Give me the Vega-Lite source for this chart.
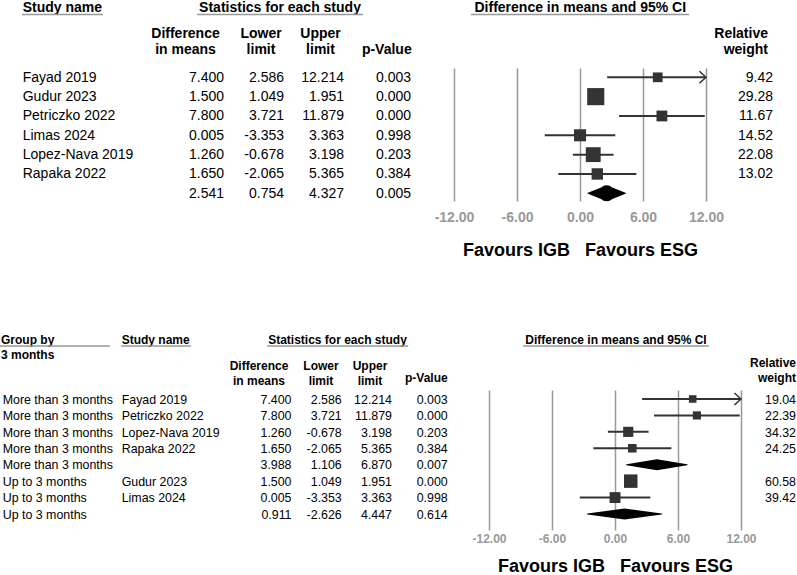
{
"$schema":"https://vega.github.io/schema/vega-lite/v6.json",
"width":797,"height":575,"padding":0,"autosize":{"type":"none"},"background":"white",
"config":{"view":{"stroke":null},"font":"Liberation Sans","text":{"font":"Liberation Sans"},"locale":{"number":{"decimal":".","thousands":",","grouping":[3],"currency":["$",""],"minus":"-"}}},
"datasets":{
"top":[
{"key":"Fayad 2019","study":"Fayad 2019","diff":7.400,"lower":2.586,"upper":12.214,"p":0.003,"weight":9.42},
{"key":"Gudur 2023","study":"Gudur 2023","diff":1.500,"lower":1.049,"upper":1.951,"p":0.000,"weight":29.28},
{"key":"Petriczko 2022","study":"Petriczko 2022","diff":7.800,"lower":3.721,"upper":11.879,"p":0.000,"weight":11.67},
{"key":"Limas 2024","study":"Limas 2024","diff":0.005,"lower":-3.353,"upper":3.363,"p":0.998,"weight":14.52},
{"key":"Lopez-Nava 2019","study":"Lopez-Nava 2019","diff":1.260,"lower":-0.678,"upper":3.198,"p":0.203,"weight":22.08},
{"key":"Rapaka 2022","study":"Rapaka 2022","diff":1.650,"lower":-2.065,"upper":5.365,"p":0.384,"weight":13.02},
{"key":"Overall","study":"","diff":2.541,"lower":0.754,"upper":4.327,"p":0.005,"weight":null}
],
"bottom":[
{"key":"Fayad 2019","group":"More than 3 months","study":"Fayad 2019","diff":7.400,"lower":2.586,"upper":12.214,"p":0.003,"weight":19.04},
{"key":"Petriczko 2022","group":"More than 3 months","study":"Petriczko 2022","diff":7.800,"lower":3.721,"upper":11.879,"p":0.000,"weight":22.39},
{"key":"Lopez-Nava 2019","group":"More than 3 months","study":"Lopez-Nava 2019","diff":1.260,"lower":-0.678,"upper":3.198,"p":0.203,"weight":34.32},
{"key":"Rapaka 2022","group":"More than 3 months","study":"Rapaka 2022","diff":1.650,"lower":-2.065,"upper":5.365,"p":0.384,"weight":24.25},
{"key":"Subtotal more","group":"More than 3 months","study":"","diff":3.988,"lower":1.106,"upper":6.870,"p":0.007,"weight":null},
{"key":"Gudur 2023","group":"Up to 3 months","study":"Gudur 2023","diff":1.500,"lower":1.049,"upper":1.951,"p":0.000,"weight":60.58},
{"key":"Limas 2024","group":"Up to 3 months","study":"Limas 2024","diff":0.005,"lower":-3.353,"upper":3.363,"p":0.998,"weight":39.42},
{"key":"Subtotal up","group":"Up to 3 months","study":"","diff":0.911,"lower":-2.626,"upper":4.447,"p":0.614,"weight":null}
],
"hdrTop":[
{"h":"study","t":"Study name"},
{"h":"stats","t":"Statistics for each study"},
{"h":"ci","t":"Difference in means and 95% CI"},
{"h":"diff","t":"Difference\nin means"},
{"h":"lower","t":"Lower\nlimit"},
{"h":"upper","t":"Upper\nlimit"},
{"h":"p","t":"p-Value"},
{"h":"w","t":"Relative\nweight"}
],
"hdrBot":[
{"h":"group","t":"Group by\n3 months"},
{"h":"study","t":"Study name"},
{"h":"stats","t":"Statistics for each study"},
{"h":"ci","t":"Difference in means and 95% CI"},
{"h":"diff","t":"Difference\nin means"},
{"h":"lower","t":"Lower\nlimit"},
{"h":"upper","t":"Upper\nlimit"},
{"h":"p","t":"p-Value"},
{"h":"w","t":"Relative\nweight"}
]
},
"layer":[
{"data":{"name":"top"},"mark":{"type":"text","align":"left","baseline":"middle","fontSize":14,"color":"#000"},
 "encoding":{"text":{"field":"study"},"x":{"field":"key","type":"nominal","scale":{"type":"point","range":[22.7,22.7]},"axis":null},
 "y":{"field":"key","type":"nominal","scale":{"type":"point","domain":["Fayad 2019","Gudur 2023","Petriczko 2022","Limas 2024","Lopez-Nava 2019","Rapaka 2022","Overall"],"range":[77.8,193.8],"padding":0},"axis":null}}},
{"data":{"name":"top"},"transform":[{"fold":["diff","lower","upper"],"as":["k","v"]}],"mark":{"type":"text","align":"right","baseline":"middle","fontSize":14,"color":"#000"},
 "encoding":{"text":{"field":"v","type":"quantitative","format":".3f"},"x":{"field":"k","type":"nominal","scale":{"type":"point","domain":["diff","lower","upper"],"range":[224,344],"padding":0},"axis":null},
 "y":{"field":"key","type":"nominal","scale":{"type":"point","domain":["Fayad 2019","Gudur 2023","Petriczko 2022","Limas 2024","Lopez-Nava 2019","Rapaka 2022","Overall"],"range":[77.8,193.8],"padding":0},"axis":null}}},
{"data":{"name":"top"},"mark":{"type":"text","align":"right","baseline":"middle","fontSize":14,"color":"#000"},
 "encoding":{"text":{"field":"p","type":"quantitative","format":".3f"},"x":{"field":"key","type":"nominal","scale":{"type":"point","range":[411,411]},"axis":null},
 "y":{"field":"key","type":"nominal","scale":{"type":"point","domain":["Fayad 2019","Gudur 2023","Petriczko 2022","Limas 2024","Lopez-Nava 2019","Rapaka 2022","Overall"],"range":[77.8,193.8],"padding":0},"axis":null}}},
{"data":{"name":"top"},"transform":[{"filter":"isValid(datum.weight)"}],"mark":{"type":"text","align":"right","baseline":"middle","fontSize":14,"color":"#000"},
 "encoding":{"text":{"field":"weight","type":"quantitative","format":".2f"},"x":{"field":"key","type":"nominal","scale":{"type":"point","range":[773,773]},"axis":null},
 "y":{"field":"key","type":"nominal","scale":{"type":"point","domain":["Fayad 2019","Gudur 2023","Petriczko 2022","Limas 2024","Lopez-Nava 2019","Rapaka 2022","Overall"],"range":[77.8,193.8],"padding":0},"axis":null}}},

{"data":{"name":"hdrTop"},"transform":[{"filter":"datum.h=='study'"}],"mark":{"type":"text","align":"left","baseline":"middle","fontSize":14,"fontWeight":"bold","lineBreak":"\n","lineHeight":16,"color":"#000"},
 "encoding":{"text":{"field":"t"},"x":{"field":"h","type":"nominal","scale":{"type":"point","range":[22.7,22.7]},"axis":null},"y":{"field":"h","type":"nominal","scale":{"type":"point","range":[7.8,7.8]},"axis":null}}},
{"data":{"name":"hdrTop"},"transform":[{"filter":"datum.h=='stats'"}],"mark":{"type":"text","align":"center","baseline":"middle","fontSize":14,"fontWeight":"bold","lineBreak":"\n","lineHeight":16,"color":"#000"},
 "encoding":{"text":{"field":"t"},"x":{"field":"h","type":"nominal","scale":{"type":"point","range":[280,280]},"axis":null},"y":{"field":"h","type":"nominal","scale":{"type":"point","range":[7.8,7.8]},"axis":null}}},
{"data":{"name":"hdrTop"},"transform":[{"filter":"datum.h=='ci'"}],"mark":{"type":"text","align":"center","baseline":"middle","fontSize":14,"fontWeight":"bold","lineBreak":"\n","lineHeight":16,"color":"#000"},
 "encoding":{"text":{"field":"t"},"x":{"field":"h","type":"nominal","scale":{"type":"point","range":[580.3,580.3]},"axis":null},"y":{"field":"h","type":"nominal","scale":{"type":"point","range":[7.8,7.8]},"axis":null}}},
{"data":{"name":"hdrTop"},"transform":[{"filter":"datum.h=='diff'"}],"mark":{"type":"text","align":"center","baseline":"middle","fontSize":14,"fontWeight":"bold","lineBreak":"\n","lineHeight":16,"color":"#000"},
 "encoding":{"text":{"field":"t"},"x":{"field":"h","type":"nominal","scale":{"type":"point","range":[185.5,185.5]},"axis":null},"y":{"field":"h","type":"nominal","scale":{"type":"point","range":[33.8,33.8]},"axis":null}}},
{"data":{"name":"hdrTop"},"transform":[{"filter":"datum.h=='lower'"}],"mark":{"type":"text","align":"center","baseline":"middle","fontSize":14,"fontWeight":"bold","lineBreak":"\n","lineHeight":16,"color":"#000"},
 "encoding":{"text":{"field":"t"},"x":{"field":"h","type":"nominal","scale":{"type":"point","range":[261,261]},"axis":null},"y":{"field":"h","type":"nominal","scale":{"type":"point","range":[33.8,33.8]},"axis":null}}},
{"data":{"name":"hdrTop"},"transform":[{"filter":"datum.h=='upper'"}],"mark":{"type":"text","align":"center","baseline":"middle","fontSize":14,"fontWeight":"bold","lineBreak":"\n","lineHeight":16,"color":"#000"},
 "encoding":{"text":{"field":"t"},"x":{"field":"h","type":"nominal","scale":{"type":"point","range":[320.5,320.5]},"axis":null},"y":{"field":"h","type":"nominal","scale":{"type":"point","range":[33.8,33.8]},"axis":null}}},
{"data":{"name":"hdrTop"},"transform":[{"filter":"datum.h=='p'"}],"mark":{"type":"text","align":"right","baseline":"middle","fontSize":14,"fontWeight":"bold","lineBreak":"\n","lineHeight":16,"color":"#000"},
 "encoding":{"text":{"field":"t"},"x":{"field":"h","type":"nominal","scale":{"type":"point","range":[411.7,411.7]},"axis":null},"y":{"field":"h","type":"nominal","scale":{"type":"point","range":[50.3,50.3]},"axis":null}}},
{"data":{"name":"hdrTop"},"transform":[{"filter":"datum.h=='w'"}],"mark":{"type":"text","align":"right","baseline":"middle","fontSize":14,"fontWeight":"bold","lineBreak":"\n","lineHeight":16,"color":"#000"},
 "encoding":{"text":{"field":"t"},"x":{"field":"h","type":"nominal","scale":{"type":"point","range":[768,768]},"axis":null},"y":{"field":"h","type":"nominal","scale":{"type":"point","range":[33.8,33.8]},"axis":null}}},

{"data":{"name":"hdrTop"},"transform":[{"filter":"datum.h=='study'"}],"mark":{"type":"rule","color":"#999999","strokeWidth":1.5},
 "encoding":{"x":{"datum":0,"type":"quantitative","scale":{"domain":[0,1],"range":[22,103]},"axis":null},"x2":{"datum":1},"y":{"datum":0,"type":"quantitative","scale":{"domain":[0,1],"range":[14.5,14.5]},"axis":null}}},
{"data":{"name":"hdrTop"},"transform":[{"filter":"datum.h=='stats'"}],"mark":{"type":"rule","color":"#999999","strokeWidth":1.5},
 "encoding":{"x":{"datum":0,"type":"quantitative","scale":{"domain":[0,1],"range":[197,363]},"axis":null},"x2":{"datum":1},"y":{"datum":0,"type":"quantitative","scale":{"domain":[0,1],"range":[14.5,14.5]},"axis":null}}},
{"data":{"name":"hdrTop"},"transform":[{"filter":"datum.h=='ci'"}],"mark":{"type":"rule","color":"#999999","strokeWidth":1.5},
 "encoding":{"x":{"datum":0,"type":"quantitative","scale":{"domain":[0,1],"range":[471,689]},"axis":null},"x2":{"datum":1},"y":{"datum":0,"type":"quantitative","scale":{"domain":[0,1],"range":[14.5,14.5]},"axis":null}}},

{"data":{"name":"top"},"transform":[{"filter":"isValid(datum.weight)"}],"mark":{"type":"rule","color":"#333333","strokeWidth":2},
 "encoding":{"x":{"field":"lower","type":"quantitative","scale":{"domain":[-12,12],"range":[454,706],"clamp":true,"nice":false,"zero":false},
   "axis":{"orient":"bottom","offset":-374,"values":[-12,-6,0,6,12],"domain":false,"labels":false,"grid":false,"ticks":true,"tickSize":-133,"tickWidth":1.5,"tickColor":"#999999","title":null}},
 "x2":{"field":"upper"},
 "y":{"field":"key","type":"nominal","scale":{"type":"point","domain":["Fayad 2019","Gudur 2023","Petriczko 2022","Limas 2024","Lopez-Nava 2019","Rapaka 2022","Overall"],"range":[77.3,193.3],"padding":0},"axis":null}}},
{"data":{"name":"top"},"transform":[{"filter":"isValid(datum.weight)"}],"mark":{"type":"point","shape":"square","filled":true,"color":"#333333","opacity":1},
 "encoding":{"x":{"field":"diff","type":"quantitative","scale":{"domain":[-12,12],"range":[454,706],"clamp":true,"nice":false,"zero":false},
   "axis":{"orient":"bottom","offset":-358,"values":[-12,-6,0,6,12],"format":".2f","domain":false,"ticks":false,"grid":false,"labelPadding":0,"labelBaseline":"middle","labelFontSize":14,"labelFontWeight":"bold","labelColor":"#999999","labelFont":"Liberation Sans","labelFlush":false,"labelOverlap":false,
   "title":"Favours IGB\u00a0\u00a0\u00a0Favours ESG","titleFontSize":18,"titleFontWeight":"bold","titleColor":"#000000","titleFont":"Liberation Sans","titlePadding":17}},
 "y":{"field":"key","type":"nominal","scale":{"type":"point","domain":["Fayad 2019","Gudur 2023","Petriczko 2022","Limas 2024","Lopez-Nava 2019","Rapaka 2022","Overall"],"range":[77.3,193.3],"padding":0},"axis":null},
 "size":{"field":"weight","type":"quantitative","scale":{"domain":[0,30],"range":[0,300]},"legend":null}}},
{"data":{"name":"top"},"transform":[{"filter":"datum.upper > 12"}],"mark":{"type":"point","shape":"M-1.1,-1L0,0L-1.1,1","filled":false,"color":"#333333","strokeWidth":1.5,"size":144,"opacity":1},
 "encoding":{"x":{"field":"upper","type":"quantitative","scale":{"domain":[-12,12],"range":[454,706],"clamp":true,"nice":false,"zero":false},"axis":null},
 "y":{"field":"key","type":"nominal","scale":{"type":"point","domain":["Fayad 2019","Gudur 2023","Petriczko 2022","Limas 2024","Lopez-Nava 2019","Rapaka 2022","Overall"],"range":[77.3,193.3],"padding":0},"axis":null}}},
{"data":{"name":"top"},"transform":[{"filter":"!isValid(datum.weight)"},{"fold":["lower","diff","upper"],"as":["dk","dv"]}],"mark":{"type":"trail","color":"#000000","opacity":1},
 "encoding":{"x":{"field":"dv","type":"quantitative","scale":{"domain":[-12,12],"range":[454,706],"clamp":true,"nice":false,"zero":false},"axis":null},
 "y":{"field":"key","type":"nominal","scale":{"type":"point","domain":["Fayad 2019","Gudur 2023","Petriczko 2022","Limas 2024","Lopez-Nava 2019","Rapaka 2022","Overall"],"range":[77.3,193.3],"padding":0},"axis":null},
 "detail":{"field":"key"},"order":{"field":"dv","type":"quantitative"},
 "size":{"condition":{"test":"datum.dk === 'diff'","value":16},"value":0}}},

{"data":{"name":"bottom"},"mark":{"type":"text","align":"left","baseline":"middle","fontSize":12.4,"color":"#000"},
 "encoding":{"text":{"field":"group"},"x":{"field":"key","type":"nominal","scale":{"type":"point","range":[2.7,2.7]},"axis":null},
 "y":{"field":"key","type":"nominal","scale":{"type":"point","domain":["Fayad 2019","Petriczko 2022","Lopez-Nava 2019","Rapaka 2022","Subtotal more","Gudur 2023","Limas 2024","Subtotal up"],"range":[399.7,514.7],"padding":0},"axis":null}}},
{"data":{"name":"bottom"},"mark":{"type":"text","align":"left","baseline":"middle","fontSize":12.4,"color":"#000"},
 "encoding":{"text":{"field":"study"},"x":{"field":"key","type":"nominal","scale":{"type":"point","range":[121.7,121.7]},"axis":null},
 "y":{"field":"key","type":"nominal","scale":{"type":"point","domain":["Fayad 2019","Petriczko 2022","Lopez-Nava 2019","Rapaka 2022","Subtotal more","Gudur 2023","Limas 2024","Subtotal up"],"range":[399.7,514.7],"padding":0},"axis":null}}},
{"data":{"name":"bottom"},"transform":[{"fold":["diff","lower","upper"],"as":["k","v"]}],"mark":{"type":"text","align":"right","baseline":"middle","fontSize":12.4,"color":"#000"},
 "encoding":{"text":{"field":"v","type":"quantitative","format":".3f"},"x":{"field":"k","type":"nominal","scale":{"type":"point","domain":["diff","lower","upper"],"range":[291.5,392],"padding":0},"axis":null},
 "y":{"field":"key","type":"nominal","scale":{"type":"point","domain":["Fayad 2019","Petriczko 2022","Lopez-Nava 2019","Rapaka 2022","Subtotal more","Gudur 2023","Limas 2024","Subtotal up"],"range":[399.7,514.7],"padding":0},"axis":null}}},
{"data":{"name":"bottom"},"mark":{"type":"text","align":"right","baseline":"middle","fontSize":12.4,"color":"#000"},
 "encoding":{"text":{"field":"p","type":"quantitative","format":".3f"},"x":{"field":"key","type":"nominal","scale":{"type":"point","range":[447.7,447.7]},"axis":null},
 "y":{"field":"key","type":"nominal","scale":{"type":"point","domain":["Fayad 2019","Petriczko 2022","Lopez-Nava 2019","Rapaka 2022","Subtotal more","Gudur 2023","Limas 2024","Subtotal up"],"range":[399.7,514.7],"padding":0},"axis":null}}},
{"data":{"name":"bottom"},"transform":[{"filter":"isValid(datum.weight)"}],"mark":{"type":"text","align":"right","baseline":"middle","fontSize":12.4,"color":"#000"},
 "encoding":{"text":{"field":"weight","type":"quantitative","format":".2f"},"x":{"field":"key","type":"nominal","scale":{"type":"point","range":[796,796]},"axis":null},
 "y":{"field":"key","type":"nominal","scale":{"type":"point","domain":["Fayad 2019","Petriczko 2022","Lopez-Nava 2019","Rapaka 2022","Subtotal more","Gudur 2023","Limas 2024","Subtotal up"],"range":[399.7,514.7],"padding":0},"axis":null}}},

{"data":{"name":"hdrBot"},"transform":[{"filter":"datum.h=='group'"}],"mark":{"type":"text","align":"left","baseline":"middle","fontSize":12,"fontWeight":"bold","lineBreak":"\n","lineHeight":15,"color":"#000"},
 "encoding":{"text":{"field":"t"},"x":{"field":"h","type":"nominal","scale":{"type":"point","range":[1,1]},"axis":null},"y":{"field":"h","type":"nominal","scale":{"type":"point","range":[339.7,339.7]},"axis":null}}},
{"data":{"name":"hdrBot"},"transform":[{"filter":"datum.h=='study'"}],"mark":{"type":"text","align":"left","baseline":"middle","fontSize":12,"fontWeight":"bold","lineBreak":"\n","lineHeight":15,"color":"#000"},
 "encoding":{"text":{"field":"t"},"x":{"field":"h","type":"nominal","scale":{"type":"point","range":[121.7,121.7]},"axis":null},"y":{"field":"h","type":"nominal","scale":{"type":"point","range":[339.7,339.7]},"axis":null}}},
{"data":{"name":"hdrBot"},"transform":[{"filter":"datum.h=='stats'"}],"mark":{"type":"text","align":"center","baseline":"middle","fontSize":12,"fontWeight":"bold","lineBreak":"\n","lineHeight":15,"color":"#000"},
 "encoding":{"text":{"field":"t"},"x":{"field":"h","type":"nominal","scale":{"type":"point","range":[337.5,337.5]},"axis":null},"y":{"field":"h","type":"nominal","scale":{"type":"point","range":[339.7,339.7]},"axis":null}}},
{"data":{"name":"hdrBot"},"transform":[{"filter":"datum.h=='ci'"}],"mark":{"type":"text","align":"center","baseline":"middle","fontSize":12,"fontWeight":"bold","lineBreak":"\n","lineHeight":15,"color":"#000"},
 "encoding":{"text":{"field":"t"},"x":{"field":"h","type":"nominal","scale":{"type":"point","range":[616,616]},"axis":null},"y":{"field":"h","type":"nominal","scale":{"type":"point","range":[339.7,339.7]},"axis":null}}},
{"data":{"name":"hdrBot"},"transform":[{"filter":"datum.h=='diff'"}],"mark":{"type":"text","align":"center","baseline":"middle","fontSize":12,"fontWeight":"bold","lineBreak":"\n","lineHeight":15,"color":"#000"},
 "encoding":{"text":{"field":"t"},"x":{"field":"h","type":"nominal","scale":{"type":"point","range":[259,259]},"axis":null},"y":{"field":"h","type":"nominal","scale":{"type":"point","range":[365.7,365.7]},"axis":null}}},
{"data":{"name":"hdrBot"},"transform":[{"filter":"datum.h=='lower'"}],"mark":{"type":"text","align":"center","baseline":"middle","fontSize":12,"fontWeight":"bold","lineBreak":"\n","lineHeight":15,"color":"#000"},
 "encoding":{"text":{"field":"t"},"x":{"field":"h","type":"nominal","scale":{"type":"point","range":[321,321]},"axis":null},"y":{"field":"h","type":"nominal","scale":{"type":"point","range":[365.7,365.7]},"axis":null}}},
{"data":{"name":"hdrBot"},"transform":[{"filter":"datum.h=='upper'"}],"mark":{"type":"text","align":"center","baseline":"middle","fontSize":12,"fontWeight":"bold","lineBreak":"\n","lineHeight":15,"color":"#000"},
 "encoding":{"text":{"field":"t"},"x":{"field":"h","type":"nominal","scale":{"type":"point","range":[370,370]},"axis":null},"y":{"field":"h","type":"nominal","scale":{"type":"point","range":[365.7,365.7]},"axis":null}}},
{"data":{"name":"hdrBot"},"transform":[{"filter":"datum.h=='p'"}],"mark":{"type":"text","align":"right","baseline":"middle","fontSize":12,"fontWeight":"bold","lineBreak":"\n","lineHeight":15,"color":"#000"},
 "encoding":{"text":{"field":"t"},"x":{"field":"h","type":"nominal","scale":{"type":"point","range":[447.7,447.7]},"axis":null},"y":{"field":"h","type":"nominal","scale":{"type":"point","range":[377.7,377.7]},"axis":null}}},
{"data":{"name":"hdrBot"},"transform":[{"filter":"datum.h=='w'"}],"mark":{"type":"text","align":"right","baseline":"middle","fontSize":12,"fontWeight":"bold","lineBreak":"\n","lineHeight":15,"color":"#000"},
 "encoding":{"text":{"field":"t"},"x":{"field":"h","type":"nominal","scale":{"type":"point","range":[796,796]},"axis":null},"y":{"field":"h","type":"nominal","scale":{"type":"point","range":[362.7,362.7]},"axis":null}}},

{"data":{"name":"hdrBot"},"transform":[{"filter":"datum.h=='group'"}],"mark":{"type":"rule","color":"#999999","strokeWidth":1.5},
 "encoding":{"x":{"datum":0,"type":"quantitative","scale":{"domain":[0,1],"range":[0,110]},"axis":null},"x2":{"datum":1},"y":{"datum":0,"type":"quantitative","scale":{"domain":[0,1],"range":[346,346]},"axis":null}}},
{"data":{"name":"hdrBot"},"transform":[{"filter":"datum.h=='study'"}],"mark":{"type":"rule","color":"#999999","strokeWidth":1.5},
 "encoding":{"x":{"datum":0,"type":"quantitative","scale":{"domain":[0,1],"range":[121,191]},"axis":null},"x2":{"datum":1},"y":{"datum":0,"type":"quantitative","scale":{"domain":[0,1],"range":[346,346]},"axis":null}}},
{"data":{"name":"hdrBot"},"transform":[{"filter":"datum.h=='stats'"}],"mark":{"type":"rule","color":"#999999","strokeWidth":1.5},
 "encoding":{"x":{"datum":0,"type":"quantitative","scale":{"domain":[0,1],"range":[267,408]},"axis":null},"x2":{"datum":1},"y":{"datum":0,"type":"quantitative","scale":{"domain":[0,1],"range":[346,346]},"axis":null}}},
{"data":{"name":"hdrBot"},"transform":[{"filter":"datum.h=='ci'"}],"mark":{"type":"rule","color":"#999999","strokeWidth":1.5},
 "encoding":{"x":{"datum":0,"type":"quantitative","scale":{"domain":[0,1],"range":[523,709]},"axis":null},"x2":{"datum":1},"y":{"datum":0,"type":"quantitative","scale":{"domain":[0,1],"range":[346,346]},"axis":null}}},

{"data":{"name":"bottom"},"transform":[{"filter":"isValid(datum.weight)"}],"mark":{"type":"rule","color":"#333333","strokeWidth":2},
 "encoding":{"x":{"field":"lower","type":"quantitative","scale":{"domain":[-12,12],"range":[489,741],"clamp":true,"nice":false,"zero":false},
   "axis":{"orient":"bottom","offset":-45,"values":[-12,-6,0,6,12],"domain":false,"labels":false,"grid":false,"ticks":true,"tickSize":-140,"tickWidth":1.5,"tickColor":"#999999","title":null}},
 "x2":{"field":"upper"},
 "y":{"field":"key","type":"nominal","scale":{"type":"point","domain":["Fayad 2019","Petriczko 2022","Lopez-Nava 2019","Rapaka 2022","Subtotal more","Gudur 2023","Limas 2024","Subtotal up"],"range":[399,514],"padding":0},"axis":null}}},
{"data":{"name":"bottom"},"transform":[{"filter":"isValid(datum.weight)"}],"mark":{"type":"point","shape":"square","filled":true,"color":"#333333","opacity":1},
 "encoding":{"x":{"field":"diff","type":"quantitative","scale":{"domain":[-12,12],"range":[489,741],"clamp":true,"nice":false,"zero":false},
   "axis":{"orient":"bottom","offset":-37,"values":[-12,-6,0,6,12],"format":".2f","domain":false,"ticks":false,"grid":false,"labelPadding":0,"labelBaseline":"middle","labelFontSize":12,"labelFontWeight":"bold","labelColor":"#999999","labelFont":"Liberation Sans","labelFlush":false,"labelOverlap":false,
   "title":"Favours IGB\u00a0\u00a0\u00a0Favours ESG","titleFontSize":18,"titleFontWeight":"bold","titleColor":"#000000","titleFont":"Liberation Sans","titlePadding":13}},
 "y":{"field":"key","type":"nominal","scale":{"type":"point","domain":["Fayad 2019","Petriczko 2022","Lopez-Nava 2019","Rapaka 2022","Subtotal more","Gudur 2023","Limas 2024","Subtotal up"],"range":[399,514],"padding":0},"axis":null},
 "size":{"field":"weight","type":"quantitative","scale":{"domain":[0,100],"range":[0,300]},"legend":null}}},
{"data":{"name":"bottom"},"transform":[{"filter":"datum.upper > 12"}],"mark":{"type":"point","shape":"M-1.1,-1L0,0L-1.1,1","filled":false,"color":"#333333","strokeWidth":1.5,"size":144,"opacity":1},
 "encoding":{"x":{"field":"upper","type":"quantitative","scale":{"domain":[-12,12],"range":[489,741],"clamp":true,"nice":false,"zero":false},"axis":null},
 "y":{"field":"key","type":"nominal","scale":{"type":"point","domain":["Fayad 2019","Petriczko 2022","Lopez-Nava 2019","Rapaka 2022","Subtotal more","Gudur 2023","Limas 2024","Subtotal up"],"range":[399,514],"padding":0},"axis":null}}},
{"data":{"name":"bottom"},"transform":[{"filter":"!isValid(datum.weight)"},{"fold":["lower","diff","upper"],"as":["dk","dv"]}],"mark":{"type":"trail","color":"#000000","opacity":1},
 "encoding":{"x":{"field":"dv","type":"quantitative","scale":{"domain":[-12,12],"range":[489,741],"clamp":true,"nice":false,"zero":false},"axis":null},
 "y":{"field":"key","type":"nominal","scale":{"type":"point","domain":["Fayad 2019","Petriczko 2022","Lopez-Nava 2019","Rapaka 2022","Subtotal more","Gudur 2023","Limas 2024","Subtotal up"],"range":[399,514],"padding":0},"axis":null},
 "detail":{"field":"key"},"order":{"field":"dv","type":"quantitative"},
 "size":{"condition":{"test":"datum.dk === 'diff'","value":11},"value":0}}}
],
"resolve":{"scale":{"x":"independent","y":"independent","size":"independent"}}
}
